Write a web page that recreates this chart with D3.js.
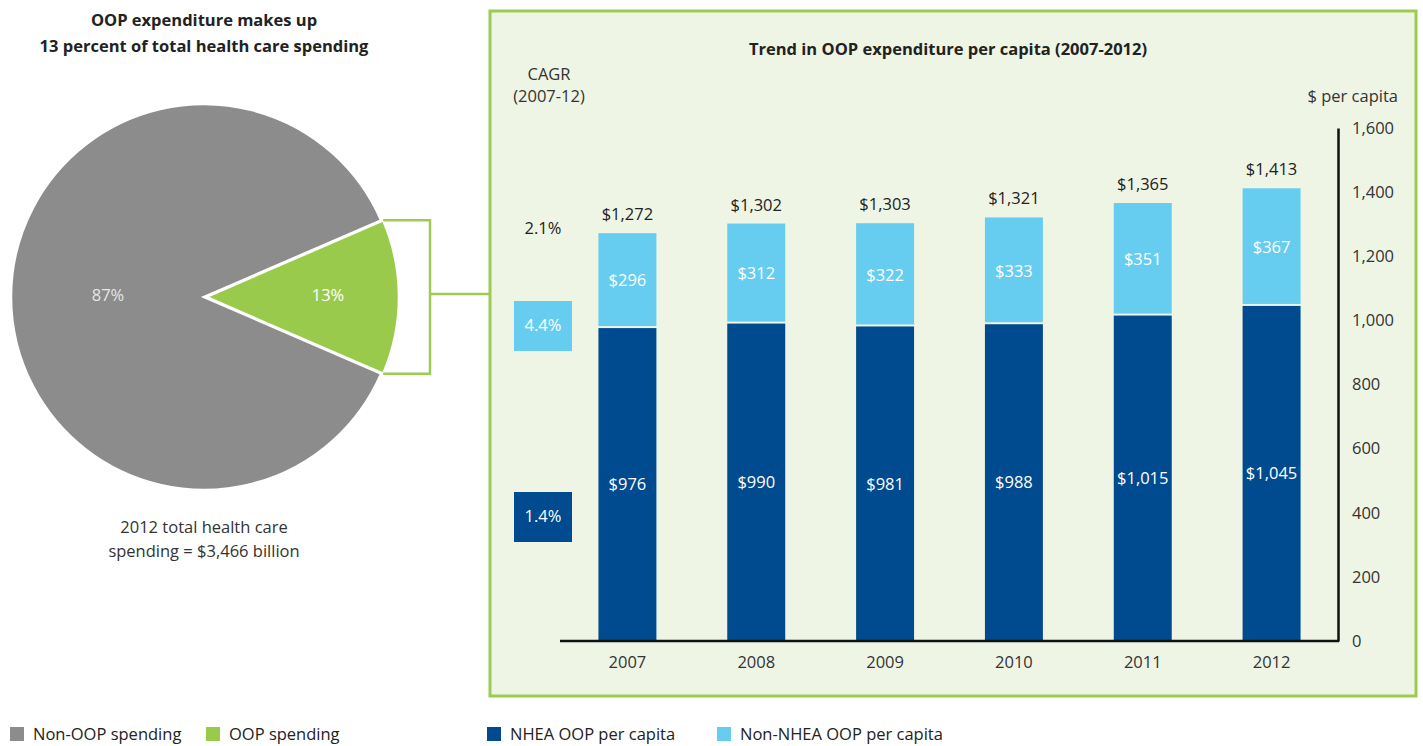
<!DOCTYPE html>
<html>
<head>
<meta charset="utf-8">
<script src="https://cdn.jsdelivr.net/npm/d3@7"></script>
<style>
  body { margin: 0; background: #fff; }
  svg { display: block; font-family: "Open Sans", sans-serif; }
</style>
</head>
<body>
<div id="chart"></div>
<script>
// pie data
var pieLabels = ["Non-OOP spending", "OOP spending"],
    pieValues = [87, 13];

// bar data
var years = ["2007", "2008", "2009", "2010", "2011", "2012"],
    nhea = [976, 990, 981, 988, 1015, 1045],
    nonNhea = [296, 312, 322, 333, 351, 367],
    totals = [1272, 1302, 1303, 1321, 1365, 1413];

var yTicks = [0, 200, 400, 600, 800, 1000, 1200, 1400, 1600];
var cagrTotal = "2.1%", cagrNon = "4.4%", cagrNhea = "1.4%";

var width = 1423, height = 746;
var fs = 16.5;
var gray = "#8c8c8c", green = "#9aca4c", dark = "#004b8f", light = "#66cdf0",
    boxFill = "#eef5e5", boxStroke = "#9ccb52";

var svg = d3.select("#chart").append("svg")
    .attr("width", width)
    .attr("height", height);

// ---------- pie ----------
var pieG = svg.append("g").attr("transform", "translate(204,297)");
var pieRadius = 193;

pieG.append("text").attr("text-anchor", "middle").attr("y", -271)
    .attr("font-size", fs).attr("font-weight", "bold").attr("fill", "#222")
    .text("OOP expenditure makes up");
pieG.append("text").attr("text-anchor", "middle").attr("y", -245)
    .attr("font-size", fs).attr("font-weight", "bold").attr("fill", "#222")
    .text("13 percent of total health care spending");

var oopAngle = pieValues[1] / d3.sum(pieValues) * 2 * Math.PI;
var pie = d3.pie().sort(null)
    .startAngle(Math.PI / 2 + oopAngle / 2)
    .endAngle(Math.PI / 2 + oopAngle / 2 + 2 * Math.PI);
var arc = d3.arc().innerRadius(0).outerRadius(pieRadius);

var slices = pie(pieValues);
pieG.selectAll("path.slice").data(slices).enter().append("path")
    .attr("class", "slice")
    .attr("d", arc)
    .attr("fill", function(d, i) { return i == 0 ? gray : green; })
    .attr("stroke", "#fff").attr("stroke-width", 2.5)
    .attr("transform", function(d, i) { return i == 1 ? "translate(2,0)" : null; });

pieG.selectAll("text.plab").data(slices).enter().append("text")
    .attr("class", "plab")
    .attr("x", function(d, i) { return i == 0 ? -96 : 124; })
    .attr("y", -2)
    .attr("dy", "0.35em")
    .attr("text-anchor", "middle")
    .attr("font-size", fs)
    .attr("fill", function(d, i) { return i == 0 ? "#e6e6e6" : "#fff"; })
    .text(function(d) { return d.data + "%"; });

pieG.append("text").attr("text-anchor", "middle").attr("y", 236)
    .attr("font-size", fs).attr("fill", "#333")
    .text("2012 total health care");
pieG.append("text").attr("text-anchor", "middle").attr("y", 260)
    .attr("font-size", fs).attr("fill", "#333")
    .text("spending = $3,466 billion");

// bracket from the OOP slice to the box
var s1 = slices[1];
var pTop = [Math.sin(s1.startAngle) * pieRadius, -Math.cos(s1.startAngle) * pieRadius],
    pBot = [Math.sin(s1.endAngle) * pieRadius, -Math.cos(s1.endAngle) * pieRadius];
var bx = 226;
pieG.append("path")
    .attr("d", "M" + (pTop[0] + 2) + "," + pTop[1] + "H" + bx + "V" + pBot[1] + "H" + (pBot[0] + 2) +
               "M" + bx + ",-3H" + 286)
    .attr("fill", "none").attr("stroke", boxStroke).attr("stroke-width", 2.5);

// ---------- bar box ----------
svg.append("rect").attr("x", 490).attr("y", 11).attr("width", 926).attr("height", 685)
    .attr("fill", boxFill).attr("stroke", boxStroke).attr("stroke-width", 3);

svg.append("text").attr("x", 948).attr("y", 55).attr("text-anchor", "middle")
    .attr("font-size", fs).attr("font-weight", "bold").attr("fill", "#222")
    .text("Trend in OOP expenditure per capita (2007-2012)");

svg.append("text").attr("x", 549).attr("y", 80).attr("text-anchor", "middle")
    .attr("font-size", fs).attr("fill", "#333").text("CAGR");
svg.append("text").attr("x", 549).attr("y", 102).attr("text-anchor", "middle")
    .attr("font-size", fs).attr("fill", "#333").text("(2007-12)");
svg.append("text").attr("x", 1398).attr("y", 102).attr("text-anchor", "end")
    .attr("font-size", fs).attr("fill", "#333").text("$ per capita");

var x = d3.scaleBand().domain(years).range([563, 1336])
    .paddingInner(0.55).paddingOuter(0.275);
var y = d3.scaleLinear().domain([0, 1600]).range([641, 128]);

var bars = svg.append("g");
// NHEA (bottom)
bars.selectAll("rect.nhea").data(years).enter().append("rect")
    .attr("class", "nhea")
    .attr("x", function(d) { return x(d); })
    .attr("width", x.bandwidth())
    .attr("y", function(d, i) { return y(nhea[i]); })
    .attr("height", function(d, i) { return y(0) - y(nhea[i]); })
    .attr("fill", dark);
// non-NHEA (top)
bars.selectAll("rect.non").data(years).enter().append("rect")
    .attr("class", "non")
    .attr("x", function(d) { return x(d); })
    .attr("width", x.bandwidth())
    .attr("y", function(d, i) { return y(nhea[i] + nonNhea[i]); })
    .attr("height", function(d, i) { return y(nhea[i]) - y(nhea[i] + nonNhea[i]) - 2; })
    .attr("fill", light);

var fmt = d3.format(",");
bars.selectAll("text.nl").data(years).enter().append("text")
    .attr("class", "nl")
    .attr("x", function(d) { return x(d) + x.bandwidth() / 2; })
    .attr("y", function(d, i) { return (y(nhea[i]) + y(0)) / 2; })
    .attr("dy", "0.35em").attr("text-anchor", "middle")
    .attr("font-size", fs).attr("fill", "#fff")
    .text(function(d, i) { return "$" + fmt(nhea[i]); });
bars.selectAll("text.ll").data(years).enter().append("text")
    .attr("class", "ll")
    .attr("x", function(d) { return x(d) + x.bandwidth() / 2; })
    .attr("y", function(d, i) { return (y(nhea[i]) + y(nhea[i] + nonNhea[i])) / 2; })
    .attr("dy", "0.35em").attr("text-anchor", "middle")
    .attr("font-size", fs).attr("fill", "#fff")
    .text(function(d, i) { return "$" + fmt(nonNhea[i]); });
bars.selectAll("text.tl").data(years).enter().append("text")
    .attr("class", "tl")
    .attr("x", function(d) { return x(d) + x.bandwidth() / 2; })
    .attr("y", function(d, i) { return y(totals[i]) - 13; })
    .attr("text-anchor", "middle")
    .attr("font-size", fs).attr("fill", "#222")
    .text(function(d, i) { return "$" + fmt(totals[i]); });

// axes
var yAxis = svg.append("g").attr("transform", "translate(1338,0)")
    .call(d3.axisRight(y).tickValues(yTicks).tickSize(0).tickPadding(14).tickFormat(d3.format(",")));
yAxis.select(".domain").attr("stroke", "#111").attr("stroke-width", 2.5);
yAxis.selectAll("text").attr("font-size", fs).attr("fill", "#333").attr("font-family", "Open Sans, sans-serif");

var xAxis = svg.append("g").attr("transform", "translate(0,641)")
    .call(d3.axisBottom(x).tickSize(0).tickPadding(15));
xAxis.select(".domain").attr("d", "M560,0H1339").attr("stroke", "#111").attr("stroke-width", 2.5);
xAxis.selectAll("text").attr("font-size", fs).attr("fill", "#333").attr("font-family", "Open Sans, sans-serif");

// CAGR boxes
svg.append("text").attr("x", 543).attr("y", 234).attr("text-anchor", "middle")
    .attr("font-size", fs).attr("fill", "#222").text(cagrTotal);
svg.append("rect").attr("x", 514).attr("y", 301).attr("width", 58).attr("height", 50).attr("fill", light);
svg.append("text").attr("x", 543).attr("y", 325).attr("dy", "0.35em").attr("text-anchor", "middle")
    .attr("font-size", fs).attr("fill", "#fff").text(cagrNon);
svg.append("rect").attr("x", 514).attr("y", 492).attr("width", 58).attr("height", 50).attr("fill", dark);
svg.append("text").attr("x", 543).attr("y", 516).attr("dy", "0.35em").attr("text-anchor", "middle")
    .attr("font-size", fs).attr("fill", "#fff").text(cagrNhea);

// legend
var legendItems = [
  { label: pieLabels[0], color: gray, x: 10 },
  { label: pieLabels[1], color: green, x: 206 },
  { label: "NHEA OOP per capita", color: dark, x: 487 },
  { label: "Non-NHEA OOP per capita", color: light, x: 717 }
];
var leg = svg.selectAll("g.leg").data(legendItems).enter().append("g")
    .attr("class", "leg")
    .attr("transform", function(d) { return "translate(" + d.x + ",727)"; });
leg.append("rect").attr("width", 14).attr("height", 14).attr("fill", function(d) { return d.color; });
leg.append("text").attr("x", 23).attr("y", 7).attr("dy", "0.35em")
    .attr("font-size", fs).attr("fill", "#222")
    .text(function(d) { return d.label; });
</script>
</body>
</html>
